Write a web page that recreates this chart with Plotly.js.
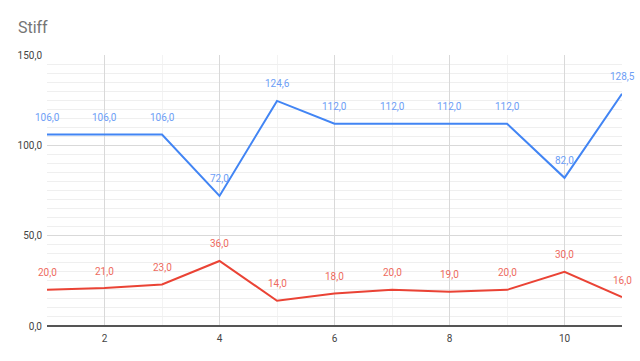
<!DOCTYPE html>
<html><head><meta charset="utf-8">
<script src="https://cdn.plot.ly/plotly-3.0.1.min.js"></script>
<style>html,body{margin:0;padding:0;background:#fff}#c{width:640px;height:361px}</style>
</head><body><div id="c"></div>
<script>
const xs = [1,2,3,4,5,6,7,8,9,10,11];
const blueVals = [106,106,106,72,124.6,112,112,112,112,82,128.5];
const redVals = [20,21,23,36,14,18,20,19,20,30,16];
const yTicks = [0,50,100,150];
const xTicks = [2,4,6,8,10];

const blueColor = '#4285F4', redColor = '#EA4335';
const blueLabel = '#6d9ef6', redLabel = '#ee6b60';

const traces = [
  {x: xs, y: blueVals, mode: 'lines', type: 'scatter',
   line: {color: blueColor, width: 2}, hoverinfo: 'none'},
  {x: xs, y: redVals, mode: 'lines', type: 'scatter',
   line: {color: redColor, width: 2}, hoverinfo: 'none'}
];

function fmt(v){ return v.toFixed(1).replace('.', ','); }
const annotations = [];
[[blueVals, blueLabel], [redVals, redLabel]].forEach(([vals, col]) => {
  vals.forEach((v, i) => {
    annotations.push({x: xs[i], y: v, xref: 'x', yref: 'y', text: fmt(v), showarrow: false,
      yshift: 17, xanchor: 'center', yanchor: 'middle',
      font: {family: 'Roboto', size: 10, color: col}});
  });
});

const layout = {
  width: 640, height: 361,
  separators: ',.',
  showlegend: false,
  paper_bgcolor: '#fff', plot_bgcolor: '#fff',
  margin: {l: 47, r: 18, t: 55, b: 35},
  font: {family: 'Roboto', color: '#444'},
  title: {text: 'Stiff', x: 0.028, xanchor: 'left', y: 0.925, yanchor: 'middle',
          font: {family: 'Roboto', size: 16, color: '#757575'}},
  annotations: annotations,
  xaxis: {range: [1, 11], tickvals: xTicks, ticktext: xTicks.map(String),
          showgrid: true, gridcolor: '#d9d9d9', gridwidth: 1,
          minor: {dtick: 1, tick0: 1, showgrid: true, gridcolor: '#f3f3f3', gridwidth: 1},
          zeroline: false, showline: false, ticks: '', ticklabelstandoff: 5,
          tickfont: {size: 10, color: '#444'}, fixedrange: true},
  yaxis: {range: [0, 150], tickvals: yTicks, tickformat: '.1f',
          showgrid: true, gridcolor: '#d9d9d9', gridwidth: 1,
          minor: {dtick: 5, tick0: 0, showgrid: true, gridcolor: '#efefef', gridwidth: 1},
          zeroline: true, zerolinecolor: '#555', zerolinewidth: 1.5, showline: false, ticks: '',
          tickfont: {size: 10, color: '#444'}, ticklabelstandoff: 4, fixedrange: true}
};
Plotly.newPlot('c', traces, layout, {staticPlot: true, displayModeBar: false});
</script></body></html>
